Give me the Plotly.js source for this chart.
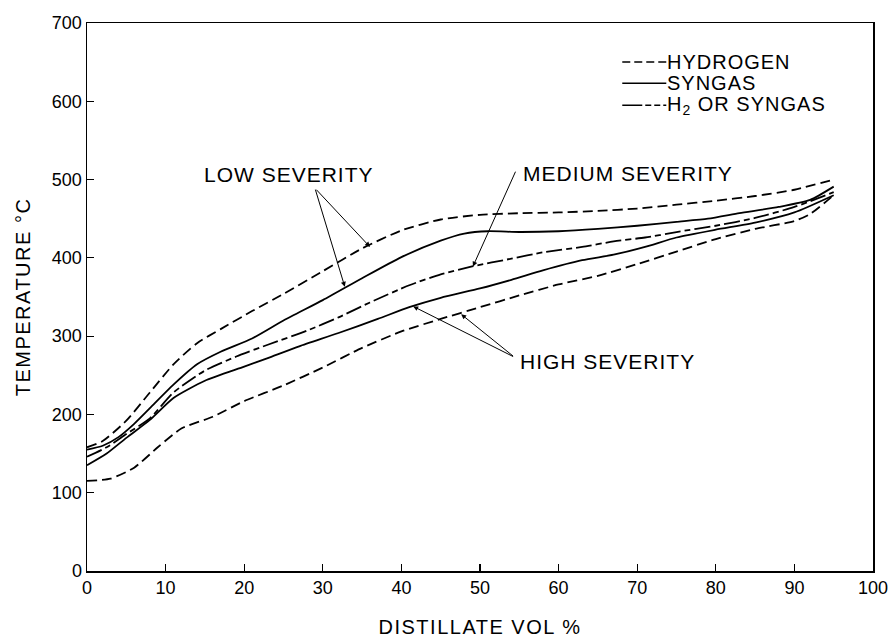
<!DOCTYPE html>
<html>
<head>
<meta charset="utf-8">
<script src="https://cdn.plot.ly/plotly-3.0.1.min.js"></script>
<style>
  html, body { margin: 0; padding: 0; background: #fff; }
  #chart { width: 893px; height: 642px; }
  .annotation-text { letter-spacing: 1px; }
  .xtitle, .ytitle { letter-spacing: 1.5px; }
</style>
</head>
<body>
<div id="chart"></div>
<script>
// Distillation curves: temperature (°C) versus distillate volume percent
const hydrogenLowX  = [0, 2, 5, 8, 11, 14, 17, 21, 25, 30, 35, 40, 45, 50, 55, 60, 65, 70, 75, 80, 85, 90, 95];
const hydrogenLowY  = [158, 166, 192, 228, 264, 291, 309, 332, 354, 383, 412, 435, 449, 455, 457, 458, 460, 463, 468, 473, 479, 487, 500];

const syngasLowX    = [0, 2, 4, 6, 8, 11, 14, 17, 21, 25, 30, 35, 40, 45, 48, 51, 55, 60, 65, 70, 75, 79, 83, 88, 92, 95];
const syngasLowY    = [155, 160, 171, 188, 208, 238, 264, 280, 297, 320, 346, 374, 401, 422, 431, 434, 433, 434, 437, 441, 446, 450, 457, 465, 474, 491];

const eitherMedX    = [0, 2.5, 5, 8, 11, 15, 19, 23, 28, 32, 36, 41, 45, 49, 54, 58, 63, 67, 71, 75, 80, 85, 90, 95];
const eitherMedY    = [146, 158, 175, 195, 228, 256, 274, 289, 307, 324, 343, 365, 379, 389, 399, 407, 414, 421, 426, 433, 441, 451, 465, 484];

const syngasHighX   = [0, 2.5, 5, 8, 11, 15, 20, 23, 27, 32, 37, 41, 45, 50, 54, 58, 63, 67, 71, 75, 80, 85, 90, 95];
const syngasHighY   = [135, 150, 170, 193, 221, 243, 261, 272, 287, 304, 322, 337, 349, 361, 372, 384, 397, 404, 414, 426, 436, 445, 458, 480];

const hydrogenHighX = [0, 3, 6, 9, 12, 16, 20, 25, 30, 35, 40, 45, 50, 55, 60, 65, 70, 75, 80, 85, 90, 92, 95];
const hydrogenHighY = [115, 118, 132, 158, 182, 197, 217, 237, 260, 285, 306, 322, 337, 352, 366, 377, 392, 408, 424, 437, 447, 456, 480];

const xTicks = [0, 10, 20, 30, 40, 50, 60, 70, 80, 90, 100];
const yTicks = [0, 100, 200, 300, 400, 500, 600, 700];

const legendLabels = ['HYDROGEN', 'SYNGAS', 'H<sub>2</sub> OR SYNGAS'];
const severityLabels = ['LOW SEVERITY', 'MEDIUM SEVERITY', 'HIGH SEVERITY'];

const FONT = 'Liberation Sans, Arial, Helvetica, sans-serif';
const DASH_H2 = '10px,5px';
const DASH_EITHER = '16px,4px,6px,4px';

function curve(x, y, dash) {
  return {
    x: x, y: y, type: 'scatter', mode: 'lines', showlegend: false,
    line: { color: '#000', width: 1.8, dash: dash, shape: 'spline', smoothing: 0.6 },
    hoverinfo: 'skip'
  };
}

const traces = [
  curve(hydrogenLowX, hydrogenLowY, DASH_H2),
  curve(syngasLowX, syngasLowY, 'solid'),
  curve(eitherMedX, eitherMedY, DASH_EITHER),
  curve(syngasHighX, syngasHighY, 'solid'),
  curve(hydrogenHighX, hydrogenHighY, DASH_H2)
];

// Key in the upper right corner (paper coordinates)
const keyDashes = ['8px,4px', 'solid', '20px,3px,6px,3px,6px,3px'];
const keyY = [0.929, 0.890, 0.850];
const shapes = keyDashes.map((d, i) => ({
  type: 'line', xref: 'paper', yref: 'paper',
  x0: 0.681, x1: 0.737, y0: keyY[i], y1: keyY[i],
  line: { color: '#000', width: 1.5, dash: d }
}));

const annotations = [];
legendLabels.forEach((t, i) => annotations.push({
  xref: 'paper', yref: 'paper', x: 0.736, y: keyY[i],
  xanchor: 'left', yanchor: 'middle', showarrow: false,
  text: t, font: { family: FONT, size: 20, color: '#000' }
}));

// Severity labels
const labelPos = [[14.6, 506], [55.2, 508], [54.8, 267]];
severityLabels.forEach((t, i) => annotations.push({
  x: labelPos[i][0], y: labelPos[i][1], xref: 'x', yref: 'y',
  xanchor: 'left', yanchor: 'middle', showarrow: false,
  text: t, font: { family: FONT, size: 21, color: '#000' }
}));

// Leader arrows: tail near a label, head on a curve
function leader(tail, head) {
  return {
    x: head[0], y: head[1], ax: tail[0], ay: tail[1],
    xref: 'x', yref: 'y', axref: 'x', ayref: 'y',
    text: '', showarrow: true,
    arrowhead: 2, arrowsize: 1, arrowwidth: 1, arrowcolor: '#000',
    startstandoff: 0, standoff: 0
  };
}
annotations.push(leader([29.0, 489], [36.0, 414]));
annotations.push(leader([29.0, 489], [32.8, 363]));
annotations.push(leader([54.6, 512], [49.1, 389]));
annotations.push(leader([54.4, 273], [41.5, 338]));
annotations.push(leader([54.4, 273], [47.6, 328]));

const axisCommon = {
  showgrid: false, zeroline: false,
  showline: true, mirror: true, linecolor: '#000', linewidth: 1.5,
  ticks: 'inside', ticklen: 7, tickwidth: 1.2, tickcolor: '#000',
  tickfont: { family: FONT, size: 18, color: '#000' },
  fixedrange: true
};

const layout = {
  width: 893, height: 642,
  margin: { l: 87, r: 20, t: 23, b: 71 },
  paper_bgcolor: '#fff', plot_bgcolor: '#fff',
  font: { family: FONT, color: '#000' },
  showlegend: false,
  xaxis: Object.assign({}, axisCommon, {
    range: [0, 100], tickmode: 'array', tickvals: xTicks,
    title: { text: 'DISTILLATE VOL %', font: { family: FONT, size: 20, color: '#000' }, standoff: 23 }
  }),
  yaxis: Object.assign({}, axisCommon, {
    range: [0, 700], tickmode: 'array', tickvals: yTicks,
    title: { text: 'TEMPERATURE °C', font: { family: FONT, size: 20, color: '#000' }, standoff: 16 }
  }),
  shapes: shapes,
  annotations: annotations
};

Plotly.newPlot('chart', traces, layout, { displayModeBar: false, staticPlot: true });
</script>
</body>
</html>
